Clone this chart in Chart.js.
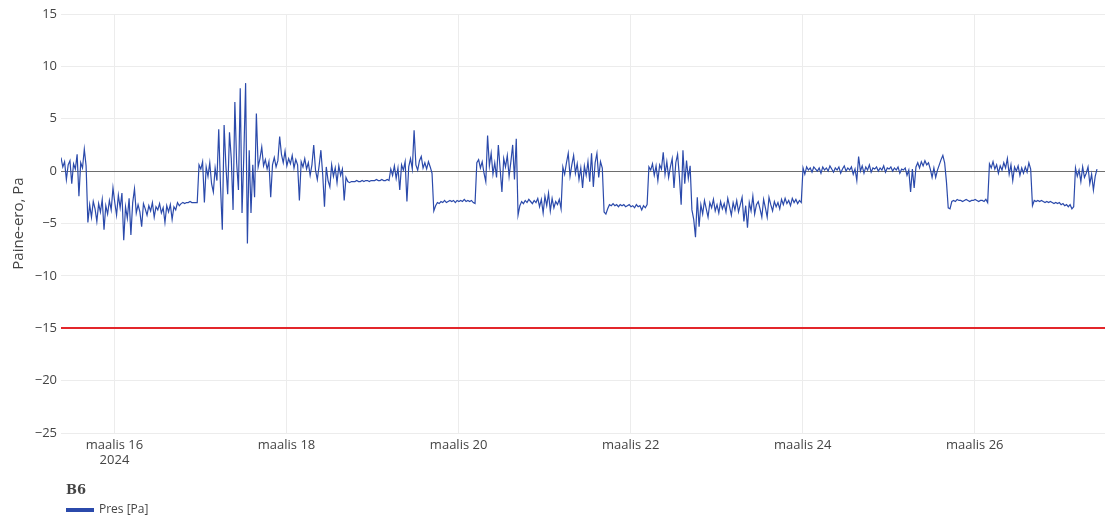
<!DOCTYPE html>
<html lang="fi">
<head>
  <meta charset="UTF-8" />
  <title>B6 paine-ero</title>
  <script src="https://cdn.jsdelivr.net/npm/chart.js"></script>
  <style>
    body { margin: 0; background: #fff; }
    canvas { display: block; }
  </style>
</head>
<body>
  <canvas id="presChart" width="1105" height="519"></canvas>

  <script>
    // series: pressure difference, one reading every 30 min from 15.3.2024 09:05
    const startTime = Date.UTC(2024, 2, 15, 9, 5);
    const stepMinutes = 30;
    const pres = [
      1.3, 0.4, 0.9, -0.8, 0.6, 1.0, -1.2, 0.7, 0.2, 1.6, -2.4, 0.8, 0.3, 2.1, 0.5,
      -4.9, -3.2, -4.4, -2.9, -3.6, -4.8, -3.1, -3.9, -2.7, -5.6, -3.3, -4.1, -2.8, -3.7, -1.6, -3.0,
      -4.2, -2.3, -3.5, -2.1, -6.6, -3.4, -4.5, -2.6, -6.1, -3.0, -1.7, -4.0, -3.2, -3.9, -5.3, -3.1,
      -3.6, -4.2, -3.3, -3.8, -3.0, -4.4, -3.4, -3.7, -3.1, -4.0, -3.5, -4.9, -3.3, -3.9, -3.2, -4.6,
      -3.4, -3.7, -3.0, -3.3, -3.1,
      -3.0, -3.1, -3.0, -3.0, -2.9, -3.0, -3.0, -3.0, -3.0,
      0.6, 0.2, 0.9, -3.0, 0.4, -0.5, 0.8, -1.2, -2.0, 0.3, -0.9, 4.0, -1.5, -5.6, 4.4, 0.5, -2.2,
      3.7, 1.2, -3.7, 6.6, 0.8, -1.8, 7.9, -4.0, 1.5, 8.4, -6.9, 2.0, -4.0, 0.6, -2.5, 5.5, 0.4, 1.2,
      2.3, 0.5, 1.1, 0.2, 0.9, -2.5, 0.6, 1.3, 0.4, 1.0, 3.3, 1.6, 0.8, 1.9, 0.5, 1.2, 0.7, 1.5, 0.3,
      1.1, 0.6, -2.8, 0.9, 0.4, 1.2, 0.2, 0.8, -0.4, 0.6, 2.5, 0.1, -0.8, 0.5, 2.0, -0.3, -3.4, 0.4,
      -0.9, -1.5, 0.6, -0.5, 0.3, -1.1, 0.5, -0.4, 0.2, -2.8, -0.6, -1.0,
      -1.1, -1.0, -1.0, -1.0, -0.9, -1.0, -1.0, -0.9, -1.0, -0.9, -0.9, -1.0, -0.9, -0.9, -0.9, -0.8,
      -0.9, -0.9, -0.8, -0.9, -0.9, -0.8, -0.9,
      0.2, -0.4, 0.5, -0.7, 0.3, -1.8, 0.6, 0.1, 0.9, -2.9, 0.4, 1.2, 0.2, 3.9, 0.6, 0.1, 1.0, 1.4,
      0.3, 0.8, 0.2, 0.9, 0.4, -0.2,
      -3.8, -3.3, -3.0, -3.1, -2.9, -3.0, -2.8, -3.0, -2.9, -2.8, -2.9, -2.8, -3.0, -2.8, -2.9, -2.8,
      -2.9, -2.7, -2.9, -2.8, -2.9, -2.8, -3.0, -3.1,
      0.8, 1.1, 0.3, 0.9, -0.2, -1.0, 3.4, 0.5, 1.7, -0.3, 0.8, -0.6, 2.5, 0.2, -2.0, 1.2, 0.4, 1.5,
      -0.5, 0.9, 2.5, -0.8, 3.1,
      -4.2, -3.3, -2.9, -3.1, -2.8, -3.0, -2.7, -2.9, -3.1, -2.8, -3.0, -2.6, -3.4, -2.7, -4.0, -2.4,
      -3.3, -2.1, -3.8, -2.6, -3.5, -2.9, -3.2, -2.7, -3.6,
      0.4, -0.3, 0.8, 1.7, -0.5, 0.6, 1.5, -0.2, 0.7, -0.8, 0.3, -1.6, 0.5, -0.4, 0.9, -1.0, 1.7,
      -1.5, 0.8, 1.7, -0.6, 0.9, 0.3,
      -3.9, -4.1, -3.6, -3.2, -3.3, -3.1, -3.3, -3.2, -3.4, -3.2, -3.3, -3.2, -3.4, -3.3, -3.2, -3.4,
      -3.3, -3.5, -3.2, -3.4, -3.3, -3.7, -3.3, -3.5, -3.2,
      0.4, 0.1, 0.7, -0.4, 0.5, -0.9, 0.6, 0.2, 1.8, -0.3, 0.9, -0.6, 0.4, 1.2, -1.6, 0.8, 1.6, -0.5,
      -3.2, 2.0, -1.2, 1.0, -0.7, 0.5,
      -3.7, -4.6, -6.3, -2.5, -5.3, -3.2, -4.1, -2.8, -3.6, -4.4, -3.0, -3.5, -2.7, -3.8, -3.2, -4.0,
      -2.9, -3.6, -3.1, -3.9, -2.6, -3.4, -4.2, -3.0, -3.7, -2.8, -3.9, -3.2, -2.5, -4.8, -3.3, -5.4,
      -3.0, -3.8, -2.4, -4.1, -3.2, -2.9, -3.6, -4.4, -2.7, -3.5, -4.4, -2.5, -3.2, -3.8, -2.9, -3.4,
      -3.0, -3.6, -2.7, -3.2, -2.6, -3.1, -2.8, -3.3, -2.6, -3.0, -2.7, -3.1, -2.8, -3.0,
      0.3, -0.3, 0.4, 0.1, 0.3, -0.1, 0.4, 0.2, 0.0, 0.3, -0.2, 0.4, 0.1, 0.3, 0.0, 0.5, 0.2, -0.1,
      0.3, 0.1, 0.4, -0.2, 0.2, 0.5, 0.0, 0.3, 0.1, 0.4, -0.3, 0.2, -0.9, 1.4, 0.0, 0.5, -0.2, 0.4,
      0.1, 0.6, -0.1, 0.3, 0.2, 0.4, 0.0, 0.3, 0.1, 0.5, -0.1, 0.3, 0.2, 0.4, 0.0, 0.3, 0.1, 0.4,
      -0.2, 0.2, 0.1, 0.3, -0.4, 0.1,
      -2.0, 0.2, -1.6, 0.4, 0.8, 0.3, 0.9, 0.5, 1.0, 0.6, 0.8, 0.2, -0.6, 0.3, -0.6, 0.1, 0.6, 1.1,
      1.5, 0.8, -1.0,
      -3.5, -3.6, -2.9, -2.8, -2.9, -2.7, -2.8, -2.8, -2.9, -2.8, -2.7, -2.8, -2.9, -2.8, -2.8, -2.7,
      -2.8, -2.9, -2.8, -2.8, -2.9, -2.7, -3.0,
      0.7, 0.3, 0.9, 0.2, 0.6, -0.2, 0.5, 0.1, 0.8, 0.3, 1.2, -0.3, 0.6, -0.9, 0.4, 0.0, 0.5, -0.4,
      0.3, -0.2, 0.4, -0.1, 0.8, 0.2,
      -3.3, -2.8, -2.9, -2.8, -2.9, -2.8, -2.9, -3.0, -2.9, -3.0, -2.9, -3.0, -3.1, -3.0, -3.1, -3.0,
      -3.2, -3.1, -3.3, -3.2, -3.4, -3.2, -3.6, -3.4,
      0.3, -0.5, 0.1, -1.0, 0.4, -0.6, -0.2, 0.4, -1.2, -0.3, -1.8, -0.5, 0.2
    ];

    // axes
    const xMin = Date.UTC(2024, 2, 15, 9, 5);
    const xMax = Date.UTC(2024, 2, 27, 12, 19);
    const tickDays = [16, 18, 20, 22, 24, 26];
    const monthName = "maalis";
    const yTicks = [15, 10, 5, 0, -5, -10, -15, -20, -25];
    const limitLine = -15;

    const points = pres.map((v, i) => ({ x: startTime + i * stepMinutes * 60000, y: v }));
    const fam = "'Open Sans', 'DejaVu Sans', sans-serif";

    const legendPlugin = {
      id: "bottomLegend",
      afterDraw(chart) {
        const c = chart.ctx;
        c.save();
        c.fillStyle = "#444";
        c.font = "bold 13px 'DejaVu Serif', serif";
        c.textBaseline = "middle";
        c.fillText("B6", 66, 491);
        c.strokeStyle = "#2b4aab";
        c.lineWidth = 4;
        c.beginPath();
        c.moveTo(66, 510);
        c.lineTo(94, 510);
        c.stroke();
        c.font = "12px " + fam;
        c.fillText("Pres [Pa]", 99, 510);
        c.restore();
      }
    };

    new Chart(document.getElementById("presChart"), {
      type: "line",
      data: {
        datasets: [{
          label: "Pres [Pa]",
          data: points,
          borderColor: "#2b4aab",
          borderWidth: 1.2,
          pointRadius: 0,
          tension: 0,
          fill: false
        }]
      },
      options: {
        responsive: false,
        animation: false,
        layout: { padding: { top: 14, right: 0, left: 0, bottom: 0 } },
        plugins: { legend: { display: false }, tooltip: { enabled: false } },
        scales: {
          x: {
            type: "linear",
            min: xMin,
            max: xMax,
            border: { display: false },
            afterFit: s => { s.height = 86; },
            afterBuildTicks: s => {
              s.ticks = tickDays.map(d => ({ value: Date.UTC(2024, 2, d) }));
            },
            grid: { color: "#ececec", drawTicks: false },
            ticks: {
              color: "#444",
              font: { family: fam, size: 13 },
              padding: 4,
              maxRotation: 0,
              autoSkip: false,
              callback: (v, i) => {
                const d = new Date(v).getUTCDate();
                return i === 0 ? [monthName + " " + d, "2024"] : monthName + " " + d;
              }
            }
          },
          y: {
            min: -25,
            max: 15,
            border: { display: false },
            afterFit: s => { s.width = 61; },
            afterBuildTicks: s => { s.ticks = yTicks.map(v => ({ value: v })); },
            grid: {
              drawTicks: false,
              color: ctx => ctx.tick.value === 0 ? "#6e6e6e" : ctx.tick.value === limitLine ? "#e3262b" : "#ececec",
              lineWidth: ctx => ctx.tick.value === limitLine ? 2 : 1
            },
            ticks: {
              color: "#444",
              font: { family: fam, size: 13 },
              padding: 4,
              callback: v => v < 0 ? "\u2212" + Math.abs(v) : String(v)
            },
            title: {
              display: true,
              text: "Paine-ero, Pa",
              color: "#444",
              font: { family: fam, size: 15 },
              padding: { top: 10, bottom: 0 }
            }
          }
        }
      },
      plugins: [legendPlugin]
    });
  </script>
</body>
</html>
